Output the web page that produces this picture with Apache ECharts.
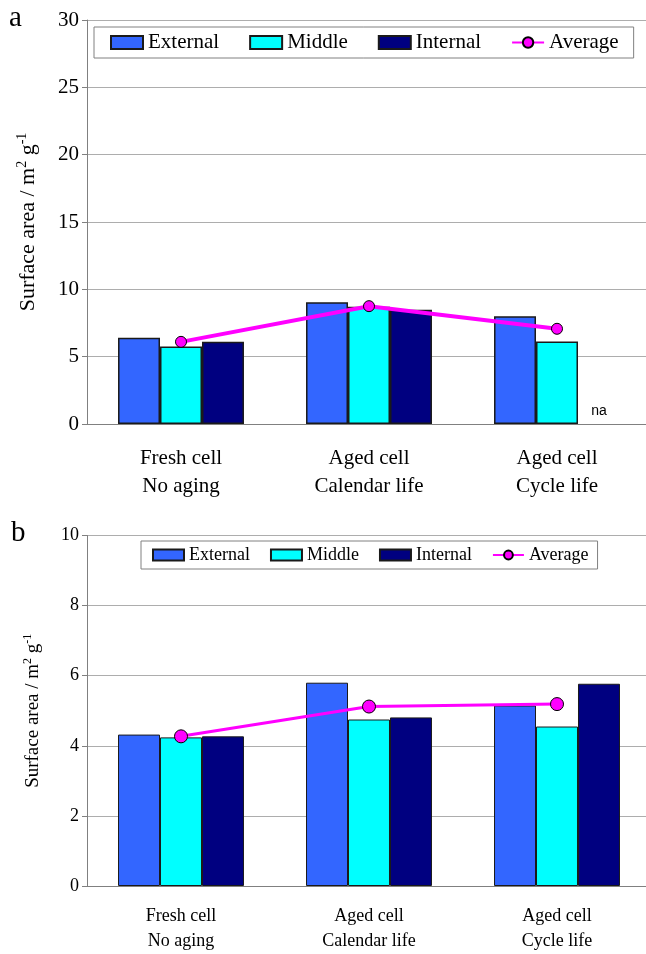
<!DOCTYPE html>
<html><head><meta charset="utf-8">
<script src="https://cdn.jsdelivr.net/npm/echarts@6/dist/echarts.min.js"></script>
<style>html,body{margin:0;padding:0;background:#fff;overflow:hidden}#c{width:660px;height:954px}</style>
</head><body><div id="c"></div>
<script>
// ---- data ----
const categories = ['Fresh cell\nNo aging', 'Aged cell\nCalendar life', 'Aged cell\nCycle life'];
const seriesNames = ['External', 'Middle', 'Internal', 'Average'];
const aExternal = [6.4, 9.05, 8.0];
const aMiddle   = [5.75, 8.7, 6.12];
const aInternal = [6.1, 8.48, null];   // null = "na"
const aAverage  = [6.1, 8.75, 7.07];
const bExternal = [4.32, 5.8, 5.15];
const bMiddle   = [4.24, 4.75, 4.55];
const bInternal = [4.27, 4.81, 5.77];
const bAverage  = [4.27, 5.12, 5.19];
const aAxis = [0, 30, 5];   // min, max, interval
const bAxis = [0, 10, 2];
const naText = 'na';
const panelLabels = ['a', 'b'];
const yName = 'Surface area / m{sup|2} g{sup|-1}';

// ---- styles ----
const FONT = 'Liberation Serif';
const colors = ['#3366FF', '#00FFFF', '#000080', '#FF00FF'];
const axisGray = '#808080';
const gridGray = '#adadad';

function barSeries(name, data, idx, gi, bw) {
  return {
    type: 'bar', name: name, xAxisIndex: gi, yAxisIndex: gi,
    barGap: '0%', barCategoryGap: '33%',
    itemStyle: { color: colors[idx], borderColor: '#1a1a1a', borderWidth: bw },
    data: data.map(v => v === null ? {
      value: 0, itemStyle: { borderWidth: 0 },
      label: { show: true, formatter: naText, position: 'top', distance: 6,
               fontFamily: 'Liberation Sans', fontSize: 14, color: '#000' }
    } : v)
  };
}
function lineSeries(data, gi, lw, ss) {
  return {
    type: 'line', name: 'Average', xAxisIndex: gi, yAxisIndex: gi, z: 5,
    symbol: 'circle', symbolSize: ss,
    lineStyle: { color: colors[3], width: lw },
    itemStyle: { color: colors[3], borderColor: '#000', borderWidth: 1 },
    data: data
  };
}
function xAx(gi, fs, lh, margin) {
  return {
    type: 'category', gridIndex: gi, data: categories,
    axisLine: { lineStyle: { color: axisGray, width: 1 } },
    axisTick: { length: 6, lineStyle: { color: axisGray } },
    axisLabel: { fontFamily: FONT, fontSize: fs, lineHeight: lh, color: '#000', margin: margin }
  };
}
function yAx(gi, ax, fs, nfs, sfs, gap) {
  return {
    type: 'value', gridIndex: gi, min: ax[0], max: ax[1], interval: ax[2],
    axisLine: { show: true, lineStyle: { color: axisGray, width: 1 } },
    axisTick: { show: true, length: 5, lineStyle: { color: axisGray } },
    splitLine: { lineStyle: { color: gridGray, width: 1 } },
    axisLabel: { fontFamily: FONT, fontSize: fs, color: '#000', margin: 8 },
    name: yName, nameLocation: 'middle', nameRotate: 90, nameGap: gap,
    nameTextStyle: {
      fontFamily: FONT, fontSize: nfs, color: '#000',
      rich: { sup: { fontFamily: FONT, fontSize: sfs, color: '#000', padding: [0, 0, Math.round(nfs * 0.55), 0] } }
    }
  };
}
function legendData() {
  return seriesNames.map((n, i) => i < 3 ? { name: n, icon: 'rect' } : { name: n });
}

const chart = echarts.init(document.getElementById('c'), null, { renderer: 'canvas' });
chart.setOption({
  animation: false,
  backgroundColor: '#fff',
  graphic: [
    { type: 'text', left: 9, top: 4, style: { text: panelLabels[0], fontFamily: FONT, fontSize: 29, fill: '#000' } },
    { type: 'text', left: 11, top: 519, style: { text: panelLabels[1], fontFamily: FONT, fontSize: 29, fill: '#000' } }
  ],
  grid: [
    { left: 87, top: 20, width: 564, height: 404 },
    { left: 87, top: 535.5, width: 564, height: 351.5 }
  ],
  legend: [
    { left: 94, top: 27, orient: 'horizontal', padding: [5, 15, 5, 16], itemGap: 30,
      itemWidth: 32, itemHeight: 13, borderColor: axisGray, borderWidth: 1, backgroundColor: '#fff',
      textStyle: { fontFamily: FONT, fontSize: 21, color: '#000' }, data: legendData(), selectedMode: false },
    { left: 141, top: 541, orient: 'horizontal', padding: [5, 9, 5, 11], itemGap: 20,
      itemWidth: 31, itemHeight: 11, borderColor: axisGray, borderWidth: 1, backgroundColor: '#fff',
      textStyle: { fontFamily: FONT, fontSize: 18, color: '#000' }, data: legendData(), selectedMode: false }
  ],
  xAxis: [xAx(0, 21, 28, 20), xAx(1, 18, 25, 18)],
  yAxis: [yAx(0, aAxis, 21, 22, 14, 46), yAx(1, bAxis, 18, 19, 12, 43)],
  series: [
    barSeries('External', aExternal, 0, 0, 1.5),
    barSeries('Middle', aMiddle, 1, 0, 1.5),
    barSeries('Internal', aInternal, 2, 0, 1.5),
    lineSeries(aAverage, 0, 4, 11),
    barSeries('External', bExternal, 0, 1, 1),
    barSeries('Middle', bMiddle, 1, 1, 1),
    barSeries('Internal', bInternal, 2, 1, 1),
    lineSeries(bAverage, 1, 3, 13)
  ]
});
</script></body></html>
